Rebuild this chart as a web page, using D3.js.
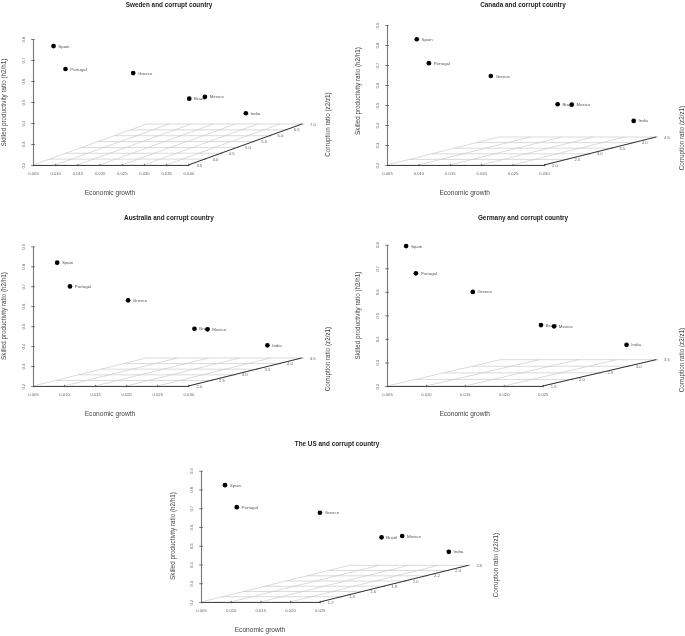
<!DOCTYPE html>
<html>
<head>
<meta charset="utf-8">
<script src="https://cdn.jsdelivr.net/npm/d3@7/dist/d3.min.js"></script>
<style>
html,body{margin:0;padding:0;background:#fff;}
svg{display:block;filter:blur(0.3px);}
text{font-family:"Liberation Sans",Arial,sans-serif;}
</style>
</head>
<body>
<svg id="chart" width="685" height="636"></svg>
<script>
// ---------- data ----------
const countries = ["Spain","Portugal","Greece","Brazil","Mexico","India"];
const panelTitles = ["Sweden and corrupt country","Canada and corrupt country","Australia and corrupt country","Germany and corrupt country","The US and corrupt country"];

const growthSweden    = [0.0067,0.0072,0.0166,0.0263,0.0269,0.0310];
const growthCanada    = [0.0076,0.0081,0.0144,0.0229,0.0230,0.0293];
const growthAustralia = [0.0067,0.0073,0.0130,0.0215,0.0214,0.0274];
const growthGermany   = [0.0060,0.0058,0.0102,0.0175,0.0170,0.0234];
const growthUS        = [0.0069,0.0071,0.0161,0.0229,0.0237,0.0244];

const skilledSweden    = [0.744,0.618,0.554,0.410,0.396,0.279];
const skilledCanada    = [0.812,0.681,0.589,0.431,0.412,0.303];
const skilledAustralia = [0.801,0.671,0.573,0.414,0.394,0.286];
const skilledGermany   = [0.783,0.656,0.555,0.403,0.381,0.280];
const skilledUS        = [0.806,0.675,0.606,0.447,0.433,0.293];

const corruptSweden    = [3.9,4.2,5.0,5.4,5.8,6.5];
const corruptCanada    = [2.3,2.5,3.0,3.3,3.6,4.1];
const corruptAustralia = [2.3,2.5,3.0,3.3,3.6,4.1];
const corruptGermany   = [1.7,1.9,2.3,2.5,2.8,3.2];
const corruptUS        = [1.32,1.42,1.70,1.90,2.05,2.45];

const xTicksSweden = [0.005,0.010,0.015,0.020,0.025,0.030,0.035,0.040];
const xTicksCanada = [0.005,0.010,0.015,0.020,0.025,0.030];
const xTicksGermany = [0.005,0.010,0.015,0.020,0.025];
const yTicks08 = [0.2,0.3,0.4,0.5,0.6,0.7,0.8];
const yTicks09 = [0.2,0.3,0.4,0.5,0.6,0.7,0.8,0.9];
const zTicksSweden = [3.5,4.0,4.5,5.0,5.5,6.0,6.5,7.0];
const zTicksCanada = [2.0,2.5,3.0,3.5,4.0,4.5];
const zTicksGermany = [1.5,2.0,2.5,3.0,3.5];
const zTicksUS = [1.2,1.4,1.6,1.8,2.0,2.2,2.4,2.6];

const xAxisTitle = "Economic growth";
const yAxisTitle = "Skilled productivity ratio (h2/h1)";
const zAxisTitle = "Corruption ratio (z2/z1)";

// ---------- layout ----------
const layouts = [
 {ox:33,oy:165,xEnd:188.3,yTop:39,  dEndX:302,  dEndY:124,  titleX:169,titleY:4,  xtX:110,  xtY:192.5,ytX:3.7,  ytY:102.5,ztX:327,  ztY:124.5},
 {ox:387,oy:165,xEnd:544,yTop:25,   dEndX:656,  dEndY:137,  titleX:523,titleY:4,  xtX:464.7,xtY:192.5,ytX:357.7,ytY:91,   ztX:681.3,ztY:138},
 {ox:33,oy:386,xEnd:188.3,yTop:246.3,dEndX:301.7,dEndY:358, titleX:169,titleY:217.3,xtX:110,xtY:413.3,ytX:3.7,ytY:316,ztX:327,ztY:359},
 {ox:387,oy:386,xEnd:542.7,yTop:244.7,dEndX:656,dEndY:359.7,titleX:523,titleY:217.3,xtX:464.7,xtY:413.3,ytX:357.7,ytY:315.5,ztX:681.3,ztY:360},
 {ox:201,oy:602,xEnd:319.7,yTop:470.7,dEndX:468.3,dEndY:565.3,titleX:337,titleY:443.3,xtX:260,xtY:629,ytX:172,ytY:536,ztX:495.7,ztY:565}
];
const panels = [
 {title:panelTitles[0],xs:growthSweden,ys:skilledSweden,zs:corruptSweden,xt:xTicksSweden,yt:yTicks08,zt:zTicksSweden,zf:".1f"},
 {title:panelTitles[1],xs:growthCanada,ys:skilledCanada,zs:corruptCanada,xt:xTicksCanada,yt:yTicks09,zt:zTicksCanada,zf:".1f"},
 {title:panelTitles[2],xs:growthAustralia,ys:skilledAustralia,zs:corruptAustralia,xt:xTicksCanada,yt:yTicks09,zt:zTicksCanada,zf:".1f"},
 {title:panelTitles[3],xs:growthGermany,ys:skilledGermany,zs:corruptGermany,xt:xTicksGermany,yt:yTicks08,zt:zTicksGermany,zf:".1f"},
 {title:panelTitles[4],xs:growthUS,ys:skilledUS,zs:corruptUS,xt:xTicksGermany,yt:yTicks09,zt:zTicksUS,zf:".1f"}
];

const svg = d3.select("#chart");
const tickFont = 4.2, tickCol = "#666", axisCol = "#444", gridCol = "#c8c8c8";

panels.forEach((p,i)=>{
  const L = layouts[i];
  const g = svg.append("g");
  const x = d3.scaleLinear().domain(d3.extent(p.xt)).range([L.ox,L.xEnd]);
  const y = d3.scaleLinear().domain(d3.extent(p.yt)).range([L.oy,L.yTop]);
  const dx = d3.scaleLinear().domain(d3.extent(p.zt)).range([0,L.dEndX-L.xEnd]);
  const dy = d3.scaleLinear().domain(d3.extent(p.zt)).range([0,L.dEndY-L.oy]);
  const zMax = p.zt[p.zt.length-1];

  // floor grid
  const grid = g.append("g").attr("stroke",gridCol).attr("stroke-width",0.65);
  grid.selectAll(".gx").data(p.xt).join("line")
    .attr("x1",d=>x(d)).attr("y1",L.oy)
    .attr("x2",d=>x(d)+dx(zMax)).attr("y2",L.oy+dy(zMax));
  grid.selectAll(".gz").data(p.zt).join("line")
    .attr("x1",d=>L.ox+dx(d)).attr("y1",d=>L.oy+dy(d))
    .attr("x2",d=>L.xEnd+dx(d)).attr("y2",d=>L.oy+dy(d));

  // x axis
  const xAxis = d3.axisBottom(x).tickValues(p.xt).tickFormat(d3.format(".3f")).tickSize(0).tickPadding(0);
  const gx = g.append("g").attr("transform",`translate(0,${L.oy})`).call(xAxis);
  gx.select(".domain").attr("stroke",axisCol).attr("stroke-width",1);
  gx.selectAll(".tick line").attr("y1",-1.2).attr("y2",1.2).attr("stroke",axisCol).attr("stroke-width",0.7);
  gx.selectAll(".tick text").attr("y",8.7).attr("dy","0.35em").attr("font-size",tickFont).attr("font-family",null).attr("fill",tickCol);

  // y axis (labels rotated, as in the source)
  const yAxis = d3.axisLeft(y).tickValues(p.yt).tickFormat(d3.format(".1f")).tickSize(0).tickPadding(0);
  const gy = g.append("g").attr("transform",`translate(${L.ox},0)`).call(yAxis);
  gy.select(".domain").attr("stroke","#777").attr("stroke-width",1.1);
  gy.selectAll(".tick line").attr("x1",-1.8).attr("x2",1.8).attr("stroke",axisCol).attr("stroke-width",0.7);
  gy.selectAll(".tick text").attr("x",null).attr("y",null).attr("dy",null)
    .attr("transform","translate(-9.3,0) rotate(-90)").attr("text-anchor","middle").attr("dominant-baseline","central")
    .attr("font-size",tickFont).attr("font-family",null).attr("fill",tickCol);

  // z (depth) axis
  g.append("line").attr("x1",L.xEnd).attr("y1",L.oy).attr("x2",L.xEnd+dx(zMax)).attr("y2",L.oy+dy(zMax))
    .attr("stroke","#333").attr("stroke-width",1);
  g.selectAll(".zt").data(p.zt).join("line")
    .attr("x1",d=>L.xEnd+dx(d)).attr("y1",d=>L.oy+dy(d))
    .attr("x2",d=>L.xEnd+dx(d)+1.6).attr("y2",d=>L.oy+dy(d))
    .attr("stroke",axisCol).attr("stroke-width",0.6);
  g.selectAll(".zl").data(p.zt).join("text")
    .attr("x",d=>L.xEnd+dx(d)+11).attr("y",d=>L.oy+dy(d))
    .attr("text-anchor","middle").attr("dominant-baseline","central")
    .attr("font-size",tickFont).attr("fill",tickCol).text(d3.format(p.zf));

  // point labels under points
  const sx = k => x(p.xs[k]) + dx(p.zs[k]);
  const sy = k => y(p.ys[k]) + dy(p.zs[k]);
  g.selectAll(".lab").data(countries).join("text")
    .attr("x",(d,k)=>sx(k)+4.8).attr("y",(d,k)=>sy(k))
    .attr("dominant-baseline","central")
    .attr("font-size",4.4).attr("fill","#555").text(d=>d);
  g.selectAll(".pt").data(countries).join("circle")
    .attr("cx",(d,k)=>sx(k)).attr("cy",(d,k)=>sy(k)).attr("r",2.35).attr("fill","#000");

  // titles
  g.append("text").attr("x",L.titleX).attr("y",L.titleY).attr("text-anchor","middle").attr("dominant-baseline","central")
    .attr("font-size",6.4).attr("font-weight","bold").attr("fill","#222").text(p.title);
  g.append("text").attr("x",L.xtX).attr("y",L.xtY).attr("text-anchor","middle").attr("dominant-baseline","central")
    .attr("font-size",6.6).attr("fill","#444").text(xAxisTitle);
  g.append("text").attr("transform",`translate(${L.ytX},${L.ytY}) rotate(-90)`).attr("text-anchor","middle").attr("dominant-baseline","central")
    .attr("font-size",6.3).attr("fill","#444").text(yAxisTitle);
  g.append("text").attr("transform",`translate(${L.ztX},${L.ztY}) rotate(-90)`).attr("text-anchor","middle").attr("dominant-baseline","central")
    .attr("font-size",6.3).attr("fill","#444").text(zAxisTitle);
});
</script>
</body>
</html>
